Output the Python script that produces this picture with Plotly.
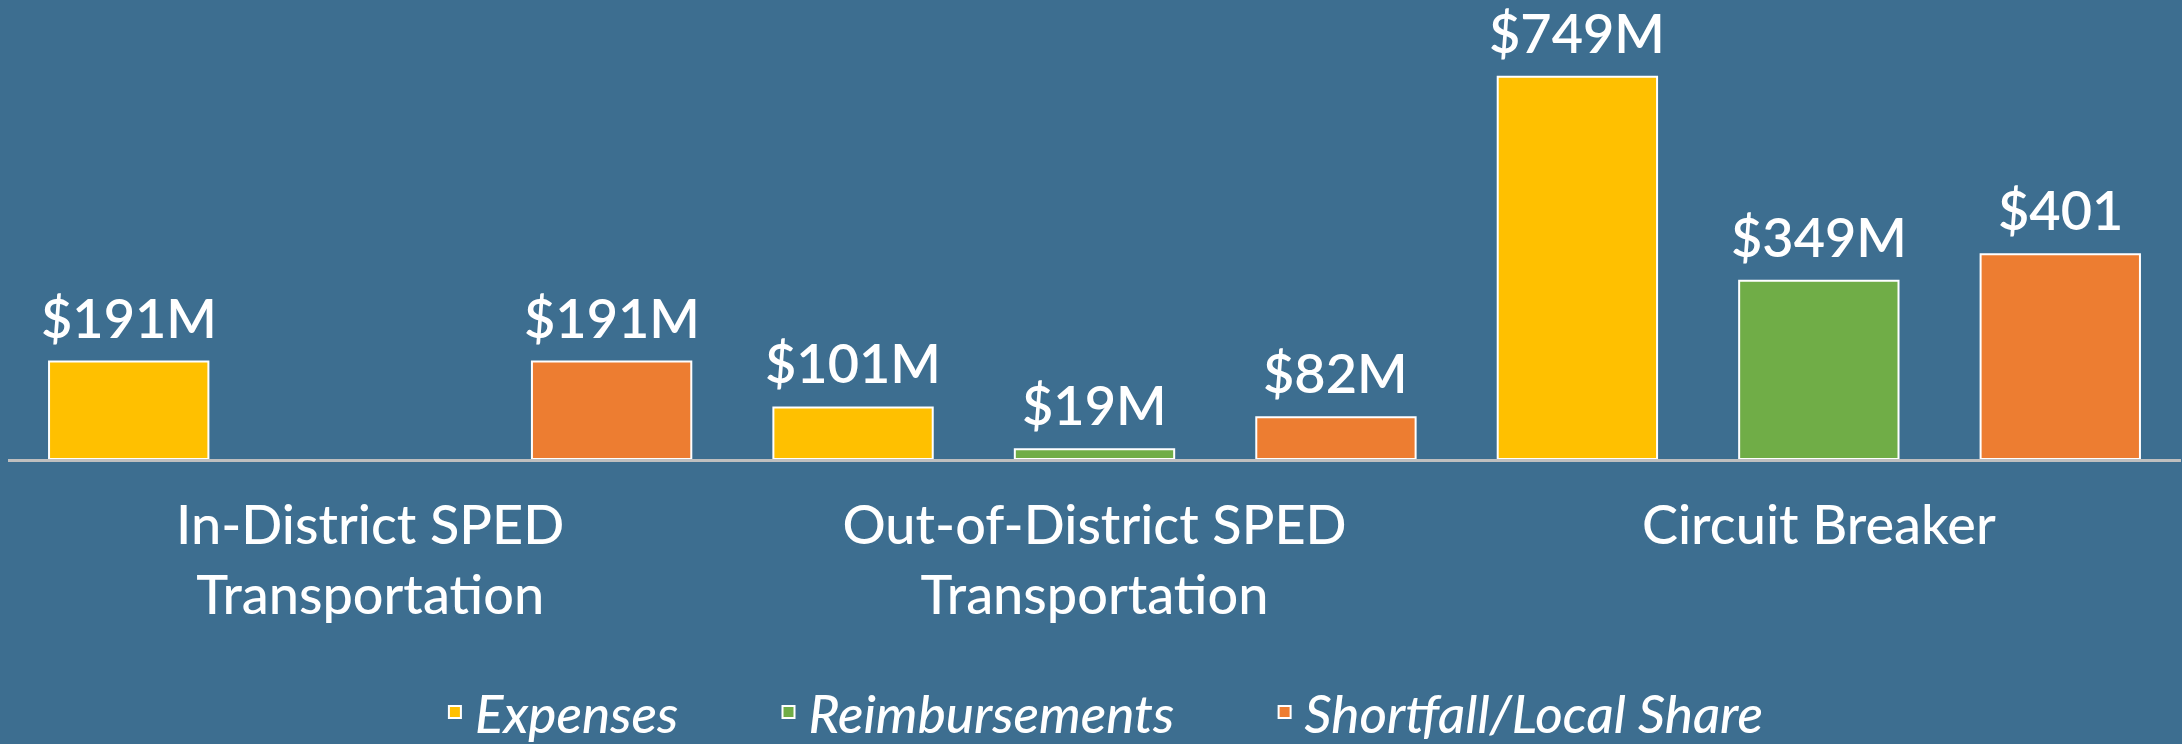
import plotly.graph_objects as go

categories = ["In-District SPED<br>Transportation", "Out-of-District SPED<br>Transportation", "Circuit Breaker"]
expenses = [191, 101, 749]
reimbursements = [None, 19, 349]
shortfall = [191, 82, 401]
expenses_text = ["$191M", "$101M", "$749M"]
reimbursements_text = [None, "$19M", "$349M"]
shortfall_text = ["$191M", "$82M", "$401"]

BG = "#3d6e90"
FONT = "Lato"
PAD = "\u00a0" * 7  # extra room between legend entries

series = [
    ("Expenses" + PAD, expenses, expenses_text, "#ffc000"),
    ("Reimbursements" + PAD, reimbursements, reimbursements_text, "#70ad47"),
    ("Shortfall/Local Share", shortfall, shortfall_text, "#ed7d31"),
]

W, H = 2182, 744
ML, MR, MT, MB = 8, 1, 20, 285
slot = (W - ML - MR) / len(categories) / len(series)

fig = go.Figure()
for i, (name, vals, txt, color) in enumerate(series):
    fig.add_trace(go.Bar(
        x=categories, y=vals, name=name,
        marker=dict(color=color, line=dict(color="white", width=2)),
    ))
    # value labels, lifted a little above the bars
    for cat, v, t in zip(categories, vals, txt):
        if v is None:
            continue
        fig.add_annotation(x=cat, y=v, text=t, showarrow=False,
                           xshift=(i - 1) * slot, yshift=10, yanchor="bottom",
                           font=dict(family=FONT, size=54, color="white", weight=600))

fig.update_layout(
    width=W, height=H,
    barmode="group", bargap=0.0, bargroupgap=0.34,
    plot_bgcolor=BG, paper_bgcolor=BG,
    margin=dict(l=ML, r=MR, t=MT, b=MB, autoexpand=False),
    showlegend=True,
    legend=dict(orientation="h", x=0.505, xanchor="center", xref="container",
                y=0.043, yanchor="middle", yref="container",
                font=dict(family=FONT, size=53, color="white", style="italic", weight=500),
                bgcolor="rgba(0,0,0,0)"),
)
fig.update_xaxes(showline=True, linecolor="#bfbfbf", linewidth=3,
                 ticks="outside", ticklen=17, tickcolor="rgba(0,0,0,0)", automargin=False,
                 tickfont=dict(family=FONT, size=54, color="white", weight=500), showgrid=False)
fig.update_yaxes(visible=False, range=[0, 860], showgrid=False, zeroline=False)

fig.write_html("out.html", config={"displayModeBar": False},
               post_script="document.body.style.margin='0';document.body.style.overflow='hidden';")
